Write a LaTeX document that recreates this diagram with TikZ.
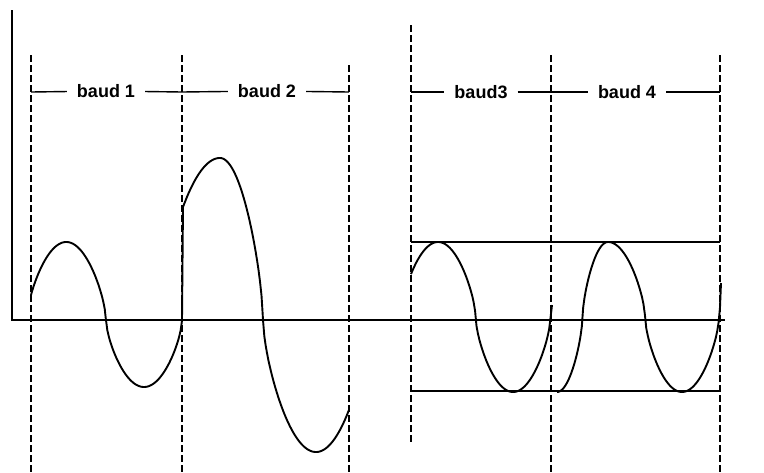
\documentclass[tikz,border=0pt]{standalone}
\usepackage{fontspec}
\setmainfont{Liberation Sans}
\begin{document}
\begin{tikzpicture}[x=1pt, y=-1pt,
  declare function={sw(\t)=sign(sin(\t))*(abs(sin(\t))+0.0001)^0.65;},
  baudline/.style={line width=1.3pt, dash pattern=on 7pt off 3pt},
  wave/.style={line width=1.9pt, line join=round},
  label/.style={font=\bfseries\fontsize{18}{20}\selectfont, inner xsep=10pt, inner ysep=2pt}]
\useasboundingbox (0,0) rectangle (764,472);
% baud boundaries
\foreach \n/\x/\t/\b in {0/31/55/472, 1/182/55/472, 2/349/65/472, 3/411/25/445, 4/551/55/472, 5/720/55/472} {
  \coordinate (top\n) at (\x,\t);
  \coordinate (bot\n) at (\x,\b);
  \coordinate (d\n) at (\x,92);
  \draw[baudline] (top\n) -- (bot\n);
}
% axes
\coordinate (O) at (12,320);
\coordinate (ytop) at (12,10);
\coordinate (xend) at (725,320);
\draw[line width=2pt] (ytop) -- (O) -- (xend);
% labels
\node[label] (b1) at (106,91) {baud 1};
\node[label] (b2) at (267,91) {baud 2};
\node[label] (b3) at (481,92) {baud3};
\node[label] (b4) at (627,92) {baud 4};
\draw[line width=1.4pt] (d0) -- (b1) -- (d1) -- (b2) -- (d2);
\draw[line width=1.4pt] (d3) -- (b3) -- (d4) -- (b4) -- (d5);
% amplitude limits
\coordinate (hi0) at (411,242); \coordinate (hi1) at (720,242);
\coordinate (lo0) at (411,391); \coordinate (lo1) at (720,391);
\draw[line width=1.3pt] (hi0) -- (hi1);
\draw[line width=1.3pt] (lo0) -- (lo1);
% signals
\draw[wave] plot[domain=31:106, samples=60] (\x, {320-78*sw(10+2.267*(\x-31))})
  -- plot[domain=106:182, samples=60] (\x, {320-67*sw(180+2.368*(\x-106))});
\draw[wave] (182,320) -- (183,207)
  -- plot[domain=183:220, samples=30] (\x, {320-162*sw(35+1.486*(\x-183))})
  -- plot[domain=220:263, samples=30] (\x, {320-162*sw(90+2.093*(\x-220))})
  -- plot[domain=263:316, samples=40] (\x, {320-132*sw(180+1.698*(\x-263))})
  -- plot[domain=316:349, samples=30] (\x, {320-132*sw(270+1.71*(\x-316))});
\draw[wave] plot[domain=411:552, samples=100] (\x, {317-75*sw(25+2.4*(\x-411))});
\draw[wave] plot[domain=557:608, samples=40] (\x, {317-75*sw(270+3.5294*(\x-557))})
  -- plot[domain=608:720, samples=80] (\x, {317-75*sw(450+2.4324*(\x-608))}) -- (721,283);
\end{tikzpicture}
\end{document}
